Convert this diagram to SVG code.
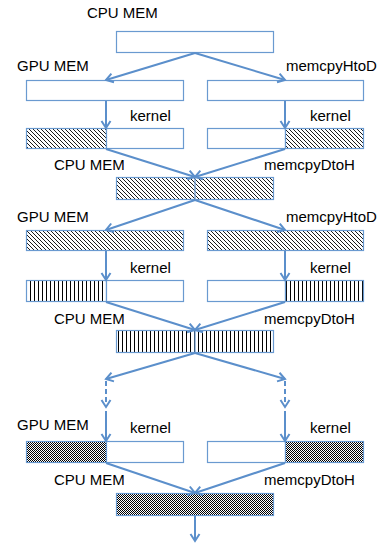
<svg xmlns="http://www.w3.org/2000/svg" width="383" height="546" viewBox="0 0 383 546">
  <style>
    .lbl { font-family: "Liberation Sans", Arial, sans-serif; font-size: 15px; fill: #000; }
    .box { stroke: #6A9AD0; stroke-width: 1.2; }
    .plain { fill: #fff; }
    .diag { fill: url(#diag); }
    .vert { fill: url(#vert); }
    .chk { fill: url(#chk); }
    .split { stroke: #6A9AD0; stroke-width: 1.2; }
    .conn { stroke: #5B8FCB; stroke-width: 2; fill: none; marker-end: url(#arr); }
    .dash { stroke-dasharray: 5 3; }
  </style>
  <defs>
    <pattern id="diag" patternUnits="userSpaceOnUse" width="4" height="4">
      <rect width="4" height="4" fill="#fff"/>
      <path d="M-1,-1 L5,5 M-1,3 L1,5 M3,-1 L5,1" stroke="#000" stroke-width="0.9"/>
    </pattern>
    <pattern id="vert" patternUnits="userSpaceOnUse" width="4" height="4">
      <rect width="4" height="4" fill="#fff"/>
      <path d="M2.5,0 L2.5,4" stroke="#000" stroke-width="1"/>
    </pattern>
    <pattern id="chk" patternUnits="userSpaceOnUse" width="2" height="2">
      <rect width="2" height="2" fill="#fff"/>
      <rect width="1" height="1" fill="#000"/>
      <rect x="1" y="1" width="1" height="1" fill="#000"/>
    </pattern>
    <marker id="arr" markerUnits="userSpaceOnUse" markerWidth="14" markerHeight="14" refX="10" refY="6" orient="auto">
      <path d="M3,1.5 L10,6 L3,10.5" fill="none" stroke="#5B8FCB" stroke-width="2"/>
    </marker>
  </defs>

  <!-- initial host buffer -->
  <g id="cpu1">
    <text class="lbl" x="87" y="18">CPU MEM</text>
    <rect class="box plain" x="116.5" y="31.5" width="157" height="21"/>
  </g>

  <!-- first device copies -->
  <g id="gpu1">
    <text class="lbl" x="17" y="71">GPU MEM</text>
    <rect class="box plain" x="26.5" y="80.5" width="157" height="20"/>
    <rect class="box plain" x="207.5" y="80.5" width="156" height="20"/>
    <text class="lbl" x="286" y="71">memcpyHtoD</text>
  </g>

  <!-- first kernel pass -->
  <g id="kern1">
    <text class="lbl" x="130" y="121">kernel</text>
    <text class="lbl" x="310" y="121">kernel</text>
    <rect class="box diag" x="26.5" y="128.5" width="80" height="20"/>
    <rect class="box plain" x="106.5" y="128.5" width="77" height="20"/>
    <rect class="box plain" x="207.5" y="128.5" width="78" height="20"/>
    <rect class="box diag" x="285.5" y="128.5" width="78" height="20"/>
  </g>

  <!-- first gather on host -->
  <g id="cpu2">
    <text class="lbl" x="54" y="170">CPU MEM</text>
    <text class="lbl" x="264" y="170">memcpyDtoH</text>
    <rect class="box diag" x="116.5" y="177.5" width="157" height="22"/>
    <line class="split" x1="195" y1="177.5" x2="195" y2="199.5"/>
  </g>

  <!-- second device copies -->
  <g id="gpu2">
    <text class="lbl" x="17" y="222">GPU MEM</text>
    <text class="lbl" x="286" y="222">memcpyHtoD</text>
    <rect class="box diag" x="26.5" y="230.5" width="157" height="20"/>
    <rect class="box diag" x="207.5" y="230.5" width="156" height="20"/>
  </g>

  <!-- second kernel pass -->
  <g id="kern2">
    <text class="lbl" x="130" y="273">kernel</text>
    <text class="lbl" x="310" y="273">kernel</text>
    <rect class="box vert" x="26.5" y="280.5" width="80" height="21"/>
    <rect class="box plain" x="106.5" y="280.5" width="77" height="21"/>
    <rect class="box plain" x="207.5" y="280.5" width="78" height="21"/>
    <rect class="box vert" x="285.5" y="280.5" width="78" height="21"/>
  </g>

  <!-- second gather on host -->
  <g id="cpu3">
    <text class="lbl" x="54" y="324">CPU MEM</text>
    <text class="lbl" x="264" y="324">memcpyDtoH</text>
    <rect class="box vert" x="116.5" y="330.5" width="157" height="22"/>
    <line class="split" x1="195" y1="330.5" x2="195" y2="352.5"/>
  </g>

  <!-- final kernel pass -->
  <g id="kern3">
    <text class="lbl" x="17" y="430">GPU MEM</text>
    <text class="lbl" x="130" y="433">kernel</text>
    <text class="lbl" x="310" y="433">kernel</text>
    <rect class="box chk" x="26.5" y="441.5" width="80" height="21"/>
    <rect class="box plain" x="106.5" y="441.5" width="77" height="21"/>
    <rect class="box plain" x="207.5" y="441.5" width="78" height="21"/>
    <rect class="box chk" x="285.5" y="441.5" width="78" height="21"/>
  </g>

  <!-- final gather on host -->
  <g id="cpu4">
    <text class="lbl" x="54" y="485">CPU MEM</text>
    <text class="lbl" x="264" y="485">memcpyDtoH</text>
    <rect class="box chk" x="116.5" y="493.5" width="157" height="22"/>
  </g>

  <g id="connectors">
    <line class="conn" x1="195" y1="53" x2="106" y2="80"/>
    <line class="conn" x1="195" y1="53" x2="285" y2="80"/>
    <line class="conn" x1="106" y1="101" x2="106" y2="128"/>
    <line class="conn" x1="285" y1="101" x2="285" y2="128"/>

    <line class="conn" x1="106" y1="149" x2="195" y2="177"/>
    <line class="conn" x1="285" y1="149" x2="195" y2="177"/>
    <line class="conn" x1="195" y1="200" x2="106" y2="230"/>
    <line class="conn" x1="195" y1="200" x2="285" y2="230"/>
    <line class="conn" x1="106" y1="251" x2="106" y2="280"/>
    <line class="conn" x1="285" y1="251" x2="285" y2="280"/>

    <line class="conn" x1="106" y1="302" x2="195" y2="330"/>
    <line class="conn" x1="285" y1="302" x2="195" y2="330"/>
    <line class="conn" x1="195" y1="353" x2="106" y2="379"/>
    <line class="conn" x1="195" y1="353" x2="285" y2="379"/>

    <line class="conn dash" x1="106" y1="381" x2="106" y2="407"/>
    <line class="conn dash" x1="285" y1="381" x2="285" y2="407"/>
    <line class="conn" x1="106" y1="411" x2="106" y2="441"/>
    <line class="conn" x1="285" y1="411" x2="285" y2="441"/>

    <line class="conn" x1="106" y1="463" x2="195" y2="493"/>
    <line class="conn" x1="285" y1="463" x2="195" y2="493"/>
    <line class="conn" x1="195" y1="516" x2="195" y2="541"/>
  </g>
</svg>
